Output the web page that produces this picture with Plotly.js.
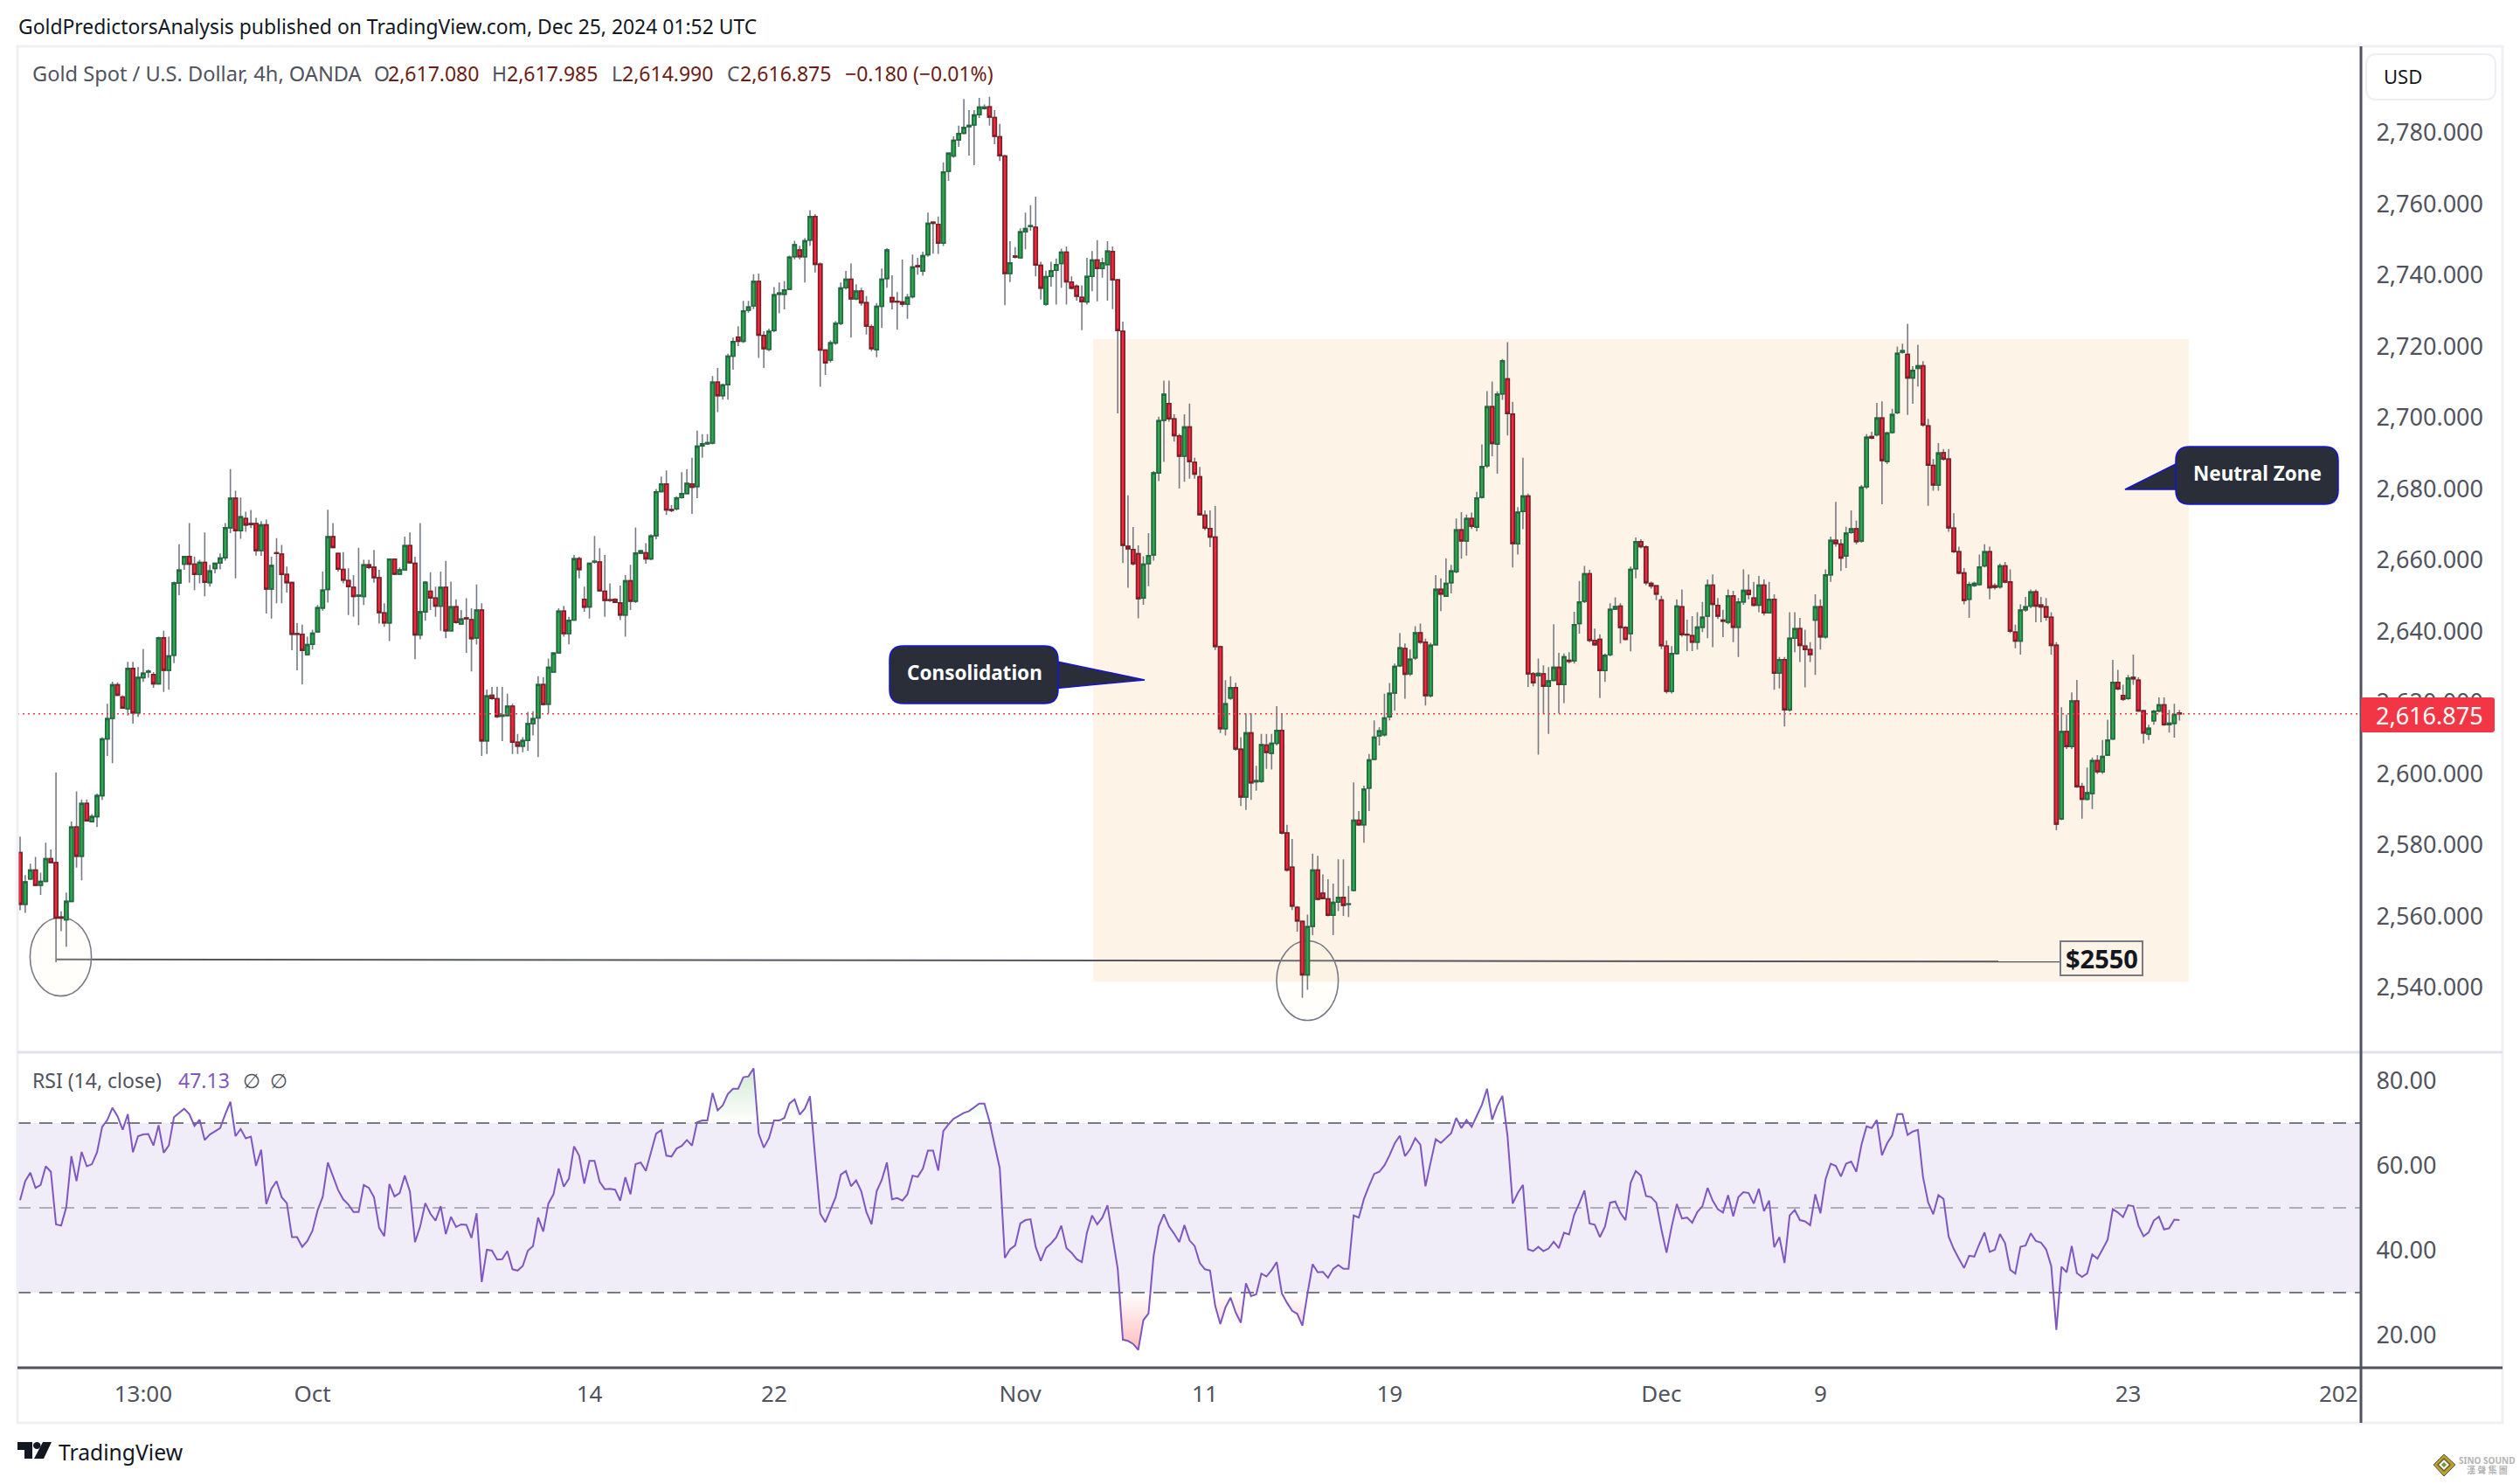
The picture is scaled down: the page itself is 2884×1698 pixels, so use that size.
<!DOCTYPE html>
<html><head><meta charset="utf-8">
<script src="https://cdn.plot.ly/plotly-3.0.1.min.js"></script>
<style>html,body{margin:0;padding:0;background:#fff;overflow:hidden}#c{width:2884px;height:1698px}</style>
</head><body><div id="c"></div>
<script>
const opens=[2577.9,2563.4,2570.5,2573.0,2568.7,2569.8,2576.2,2575.1,2559.8,2559.0,
2564.2,2585.1,2576.9,2591.7,2586.6,2588.0,2593.9,2609.8,2615.6,2625.0,
2621.6,2618.3,2629.6,2617.1,2627.0,2628.6,2627.9,2625.3,2638.2,2629.1,
2633.3,2653.6,2658.9,2661.0,2658.9,2656.0,2659.4,2653.7,2657.7,2659.2,
2660.7,2669.1,2677.4,2668.3,2671.7,2670.3,2670.3,2662.7,2669.9,2651.9,
2662.1,2661.7,2656.0,2653.7,2639.4,2639.2,2633.5,2636.4,2639.9,2646.6,
2651.8,2666.6,2661.9,2657.4,2654.3,2652.4,2649.9,2649.8,2658.7,2658.0,
2655.1,2645.2,2642.4,2660.3,2656.1,2657.3,2664.1,2659.1,2639.0,2645.5,
2651.3,2649.4,2647.1,2652.4,2640.2,2646.9,2642.1,2643.8,2643.3,2638.2,
2646.0,2609.3,2622.1,2621.1,2616.2,2616.4,2619.0,2608.9,2607.8,2609.4,
2614.1,2615.7,2625.1,2619.6,2628.6,2634.0,2645.7,2639.4,2643.2,2660.4,
2649.0,2646.9,2659.5,2659.5,2651.3,2648.9,2649.0,2648.0,2644.6,2654.2,
2648.5,2662.0,2662.1,2660.4,2666.9,2679.3,2681.4,2674.2,2674.4,2677.6,
2678.7,2681.4,2680.7,2692.1,2692.7,2692.9,2710.0,2706.2,2709.3,2717.3,
2722.6,2721.5,2730.2,2731.4,2738.3,2723.1,2719.2,2724.5,2734.7,2734.7,
2736.1,2745.2,2747.1,2745.2,2749.9,2756.5,2743.1,2719.0,2716.2,2721.0,
2726.5,2736.5,2738.9,2733.4,2735.6,2732.3,2725.6,2719.1,2731.3,2739.1,
2733.7,2732.7,2732.5,2731.9,2734,2742.7,2741.2,2745.8,2754.9,2754.3,
2749,2769.2,2773.5,2778,2779.9,2781.7,2782.2,2785.1,2786.8,2787.3,
2784.3,2778.9,2773.5,2740.5,2745.4,2744.9,2752.2,2753.7,2753.5,2742.8,
2731.9,2739.7,2741.4,2743.3,2746.5,2738.1,2736.9,2733.8,2732.5,2739.7,
2744.3,2741.9,2743,2746.7,2738.7,2724.3,2663.9,2663,2661.8,2649.4,
2659,2661.5,2684.5,2699.3,2704,2699.7,2694.9,2689.2,2697.4,2687.5,
2683.4,2672.6,2668.9,2666.5,2635.7,2612.7,2621.3,2624.2,2606.9,2593.5,
2611.5,2597.8,2597.9,2608.1,2605.8,2608.6,2612.2,2583.4,2573.8,2562.5,
2558.6,2543.6,2557.2,2573,2566.5,2564.9,2560.3,2564,2565.3,2563.4,
2567.3,2587,2585.7,2596,2604.1,2610.7,2611,2616,2622.7,2630.4,
2635.2,2628.1,2632.6,2639.6,2637,2622,2636.3,2651.8,2649.9,2653.7,
2656.8,2668.5,2665.4,2671.7,2669.3,2677.7,2686.5,2703.1,2692.6,2706.7,
2710.9,2701,2664.6,2673.7,2678,2628.1,2627.6,2628.1,2624.6,2626.3,
2629.9,2625.1,2631.9,2631.7,2642.2,2648.5,2656.2,2637.5,2637.8,2629,
2633.5,2646.3,2647.1,2641.1,2639.4,2657.6,2665.2,2663.7,2653.5,2652.8,
2648.8,2635.9,2623.2,2633.8,2646.9,2639.2,2638.8,2637,2641.2,2644.3,
2653,2647.3,2643.2,2642.6,2650,2641.2,2648.3,2651.5,2649.4,2647.4,
2653,2645.2,2649,2628.3,2632.1,2618,2638.1,2640.8,2635.9,2634.9,
2643.2,2646.9,2638.5,2655.9,2665.6,2664.5,2661.2,2667.8,2668.8,2665.4,
2680.6,2694.7,2695.2,2699.9,2687.7,2695.9,2701.4,2718.4,2717.8,2711.2,
2713.9,2714.6,2697.7,2686.6,2681.1,2690.2,2688.4,2669,2662.4,2656.4,
2649,2652.9,2653.2,2658.4,2662.4,2652.8,2652.5,2658.4,2653.9,2639.8,
2637.3,2646.1,2647.1,2651.1,2647.4,2646.9,2644,2636.1,2587.4,2611.9,
2607.7,2620.5,2596.4,2592.9,2594.5,2603.7,2600.6,2605.3,2609.8,2625.7,
2622,2621.2,2627.1,2626.3,2617.7,2611.2,2614.9,2617.7,2619.4,2613.8,2614.2,2617.08];
const highs=[2582.4,2571.6,2574.8,2576.7,2572.3,2580.7,2578.8,2600.4,2561.5,2566.7,
2586.6,2595.1,2592.8,2592.8,2588.7,2594.5,2610.3,2619.7,2625.9,2625.7,
2622.1,2631.5,2631.5,2630,2635.1,2629.3,2628.6,2638.5,2640.2,2638.5,
2654,2664.5,2661.2,2670.4,2661,2660.1,2667.8,2658.7,2659.3,2661.9,
2670.4,2685.6,2679.5,2677.6,2673.6,2674.1,2671.9,2671,2671.4,2661,
2666.2,2664.3,2658.2,2654,2642.4,2641.9,2638.5,2640.5,2647.4,2656.8,
2674.2,2670.4,2662.1,2662.3,2657.7,2655.8,2663.5,2660.1,2660.1,2662.9,
2657.3,2647.9,2660.5,2660.5,2658,2666.6,2667.8,2661,2670.4,2654.2,
2656.6,2652.6,2656.8,2659.8,2654,2649,2646,2649.3,2646.5,2653.2,
2647.9,2623.7,2624.4,2624.5,2624.4,2622.5,2619.7,2611.2,2610.3,2617.4,
2617.6,2627.4,2627.2,2632.4,2634.2,2646.5,2647.2,2644.1,2661.5,2661,
2652.6,2659.3,2666.8,2663.4,2661.5,2653.5,2649.3,2652.9,2655.8,2658.7,
2669.2,2662.9,2664.8,2667.3,2680,2683.5,2685.2,2675.5,2678,2684.7,
2685.6,2688.8,2696.4,2695.4,2695.4,2711.7,2714,2709.6,2718,2722.5,
2725.7,2732.8,2732.8,2740.3,2740.5,2724.3,2725,2736.7,2738,2738.4,
2745.5,2749.7,2748.3,2750.4,2758.3,2757.2,2743.6,2719.2,2721.7,2727.2,
2738,2741.2,2743.3,2737.5,2736.5,2734.2,2726.2,2732.2,2741.9,2747.6,
2740,2735.3,2744.4,2734.8,2745.8,2744.9,2746.6,2757.6,2755,2756.5,
2771.7,2774.5,2779,2782,2789.5,2786.4,2786.4,2789.8,2788,2790.1,
2786.4,2782.5,2773.8,2749.6,2747.9,2753.2,2757.6,2759.7,2762.1,2743.8,
2741.3,2743.8,2744.7,2747.5,2748.1,2739.7,2737.4,2737.2,2744.9,2746.8,
2749.9,2744.9,2749.6,2748.1,2739,2727,2678.2,2669.3,2664.2,2661.1,
2667.6,2685,2700.3,2710.4,2710.4,2701,2695.5,2701,2704,2688.8,
2686.2,2674,2674,2675.2,2636,2626.3,2627.4,2625.6,2610.3,2617,
2617,2602.3,2611.2,2611.2,2611.2,2619,2616.9,2585.7,2581.7,2562.9,
2558.8,2560.5,2577.6,2577,2571.8,2570.4,2569.2,2576,2576,2568.5,
2597.6,2589.6,2596.7,2605.6,2615,2613.1,2622.5,2625.5,2631,2639.6,
2636.6,2634.9,2641.5,2642.2,2638,2636.8,2655.8,2654.9,2660.5,2658.7,
2671.7,2673.5,2672.8,2673.4,2679.2,2692.5,2707.5,2710.2,2707.4,2716.5,
2721.2,2704.5,2674.9,2688.8,2678.7,2628.6,2632.4,2630.5,2630,2642,
2634,2633.8,2634.2,2645.5,2654.2,2658.4,2657.3,2640.8,2639.2,2633.8,
2647.9,2649.6,2647.9,2641.5,2658.2,2666.4,2665.9,2664.2,2654,2653,
2650,2637.5,2635.9,2649,2651.8,2643.3,2644.3,2645.4,2648.3,2654.6,
2656,2649.4,2646.1,2651.8,2651.4,2649.4,2657.4,2656,2653.9,2655.6,
2654.6,2653.9,2650.4,2632.8,2632.8,2645.4,2645.4,2643.8,2640.5,2637,
2650.4,2649,2657.4,2666.6,2676.4,2665.9,2669.4,2674,2671.1,2681.1,
2695.4,2696.1,2704.2,2704.6,2696.1,2702.5,2720,2720.8,2726.4,2714.5,
2720.5,2715.9,2699.7,2688.4,2692.9,2691.2,2691.2,2673.2,2663.8,2657.8,
2653.9,2654,2661.6,2664.5,2663.8,2653.5,2659.1,2659.5,2657.4,2641.9,
2647.6,2649.7,2651.8,2651.8,2649.7,2649.4,2645.4,2637,2618.7,2616.6,
2622.9,2626.4,2597.5,2601.8,2604.6,2605.3,2609.5,2615.2,2632,2629.2,
2625,2627.8,2633.5,2627.1,2618,2613.8,2618,2621.5,2621.5,2618,2619.7,2617.985];
const lows=[2561.7,2561,2570.5,2568.5,2566,2569.8,2575.1,2547.1,2555.8,2551.5,
2564.2,2573.7,2570.1,2586.8,2586.4,2585.1,2592.7,2605,2603,2622.1,
2618.5,2616.4,2614.1,2616,2625.8,2627,2624.2,2625.3,2623,2623.7,
2631.1,2650.2,2657.3,2653.7,2651.6,2653.5,2649.9,2652.6,2656.3,2657.4,
2659.9,2667.6,2654.9,2666,2668,2669,2661.3,2661.2,2645,2643.6,
2647.9,2647.9,2650.9,2634.7,2629.1,2625.1,2633.3,2634.9,2639.9,2645.8,
2648.1,2663.6,2656.8,2653.5,2644.6,2644.1,2641.8,2647.4,2657.5,2653.7,
2642.2,2641.3,2637.3,2655.8,2655.8,2657,2659,2632.2,2637.8,2643,
2646,2644.1,2640.2,2638.1,2640.2,2642.2,2642,2634,2628.8,2636.3,
2605,2605.6,2620.8,2615.7,2609.2,2616,2605.6,2605.6,2606.1,2606.5,
2610.8,2604.7,2619.2,2616.9,2628.6,2634,2638.5,2636.4,2643,2654.9,
2645.5,2643.6,2659,2651.4,2644.1,2648.3,2648,2643.2,2638.5,2646,
2648,2661.8,2659,2660,2665.9,2679,2672.7,2673.5,2674,2677.3,
2678.5,2673,2677.4,2688.8,2692.4,2692.5,2701.6,2705.1,2705.1,2713.5,
2720.1,2721,2729.5,2730.5,2716.8,2714,2718.7,2724,2729.3,2730.4,
2736,2744.5,2744.5,2738,2748.3,2740.8,2708.7,2712,2715.5,2720.5,
2726,2736,2722.5,2733,2731.5,2723.4,2718.7,2717,2725.2,2736.5,
2730.4,2724.7,2731.1,2727.8,2733.5,2740.2,2739.9,2745.2,2746.1,2746,
2748.2,2766.5,2773,2776.1,2779.6,2773.6,2770.9,2784.2,2786.5,2782,
2776.8,2772.1,2731.6,2738.1,2744.7,2744.7,2747.3,2752.5,2739.7,2733.2,
2731.5,2736.8,2731.8,2736.5,2731.8,2736,2732.9,2724.6,2731.8,2735.5,
2732.7,2739.3,2732.9,2730.5,2701.2,2659.2,2652.3,2658.5,2643.7,2647.5,
2652.7,2659.9,2682.2,2687.6,2698.9,2693.3,2680.1,2682,2682.9,2682.9,
2672.5,2668.4,2663.7,2634.8,2611.5,2610.8,2620.8,2606.5,2591,2589.9,
2592.7,2595.3,2597.5,2601.4,2601.2,2608,2583,2572.6,2561.8,2555.7,
2537.1,2539.4,2554.7,2564.5,2564.8,2560,2554.7,2561.5,2560.1,2559.8,
2567,2585.4,2580.7,2589.6,2603.8,2608,2610.5,2615,2617.8,2630,
2621.1,2627.5,2632,2636.5,2619.2,2621.5,2636,2645.7,2649.7,2650.7,
2656.3,2660.4,2661.3,2668.8,2668.1,2677.3,2685.9,2689.2,2684.3,2705,
2695,2658,2661.6,2668.7,2624.4,2624.6,2605.4,2616.9,2611.2,2626,
2617,2619.9,2631,2631,2639.4,2648,2637,2636,2621.3,2625.8,
2633,2646,2636.6,2637.5,2634.4,2654.9,2663.3,2653,2652,2648.8,
2635,2622.6,2622.6,2633.5,2638.5,2634.5,2634.5,2634.9,2639.8,2638.1,
2635.6,2643.5,2638.4,2642,2637,2632.8,2647.5,2649,2647,2645.4,
2644.5,2645,2623.6,2624,2613.3,2617.5,2634.2,2631.4,2624.3,2631.4,
2627.8,2634.9,2638,2653.9,2663.8,2657,2657.8,2667.4,2664.5,2664.9,
2680,2694,2694.8,2675.7,2687,2695.5,2701,2718,2700.8,2703.9,
2708.8,2697.5,2675.3,2679.5,2679.5,2688,2668,2662,2656,2647.6,
2643.8,2652.5,2652.8,2658,2649,2651.8,2652,2653.5,2639.5,2635.3,
2633.5,2645.5,2646.5,2642.6,2642.6,2643,2633.5,2584.2,2587,2607,
2607,2596.1,2587.4,2592.5,2590.1,2600,2600,2605,2609.5,2623.5,
2620.5,2620.8,2625,2617.4,2608.5,2609.5,2613.8,2617.3,2613.5,2611.6,2610.2,2614.99];
const closes=[2563.4,2569.7,2573.0,2568.7,2569.8,2576.2,2575.1,2559.5,2559.5,2564.2,
2585.1,2576.9,2591.7,2586.8,2588.0,2593.9,2609.8,2615.5,2625.0,2622.1,
2618.5,2629.6,2617.1,2627.1,2628.3,2628.8,2625.3,2638.2,2629.1,2633.1,
2653.6,2657.2,2661.0,2658.9,2656.0,2659.4,2653.8,2657.0,2659.1,2660.6,
2669.1,2677.4,2668.3,2672.2,2669.9,2670.0,2662.7,2669.9,2651.9,2658.5,
2661.9,2656.0,2653.7,2639.2,2639.2,2634.7,2636.3,2639.5,2646.7,2651.6,
2666.6,2663.6,2657.5,2654.4,2652.6,2649.8,2650.2,2658.7,2658.0,2655.1,
2645.3,2642.4,2660.3,2656.1,2657.3,2664.1,2659.3,2639.0,2645.5,2653.8,
2649.4,2647.1,2652.4,2640.2,2646.9,2642.5,2643.5,2643.6,2638.0,2646.0,
2609.3,2621.9,2621.2,2616.1,2616.5,2619.0,2608.9,2607.8,2609.4,2614.1,
2615.5,2625.1,2619.5,2629.9,2633.9,2645.7,2639.4,2643.1,2660.4,2657.4,
2646.8,2659.1,2659.7,2651.4,2648.7,2648.7,2648.2,2644.6,2654.2,2648.5,
2662.0,2662.6,2660.4,2666.8,2679.2,2681.4,2674.1,2674.0,2677.5,2678.7,
2681.6,2680.5,2692.0,2692.7,2693.0,2710.0,2706.2,2709.2,2717.3,2721.4,
2721.5,2730.0,2731.1,2738.3,2723.2,2719.4,2724.3,2734.5,2735.0,2735.9,
2745.1,2748.6,2745.2,2749.7,2756.5,2743.1,2719.0,2715.4,2721.0,2726.5,
2736.4,2738.9,2733.4,2735.6,2732.3,2725.7,2719.4,2731.3,2738.9,2747.1,
2732.5,2732.5,2731.9,2733.8,2742.3,2742.4,2745.5,2754.6,2754.6,2749,
2769,2774.3,2777.9,2779.8,2781.5,2782.1,2785,2787.2,2787.2,2784.4,
2779,2773.6,2740.5,2743.5,2745.1,2752.2,2753.1,2753.9,2742.9,2736.4,
2739.6,2741.3,2743,2746.5,2738.2,2736.4,2734.1,2732.6,2739.7,2744.3,
2741.9,2743.5,2746.8,2738.7,2724.5,2664.2,2663.2,2659,2649.2,2658.9,
2661.3,2684.5,2699.2,2706.6,2699.7,2695,2689.2,2697.4,2687.7,2684.2,
2672.8,2669,2666.5,2635.8,2612.7,2619.7,2624.2,2607,2593.5,2611.5,
2597.5,2598.1,2608.2,2606,2608.6,2612.2,2583.4,2573,2562.9,2558.7,
2543.6,2557.1,2573,2564.8,2565,2560.3,2563.9,2565.3,2563.1,2563.5,
2587,2585.7,2595.7,2603.9,2610.3,2612.1,2615.7,2622.6,2630.2,2635.4,
2628,2632.2,2639.6,2637,2622,2636.1,2651.8,2650.5,2653.5,2657,
2668.5,2665.4,2671.7,2669.5,2677.5,2686.3,2703.1,2692.8,2706.6,2716,
2701.2,2664.7,2673.5,2678,2628.1,2625.6,2628.2,2624.6,2626.1,2629.9,
2625.1,2632.9,2631.6,2641.9,2648.3,2656.2,2637.5,2636.3,2629,2633.3,
2646.2,2647,2641.1,2637.8,2657.4,2665.2,2663.8,2653.7,2652.8,2650.5,
2636,2623.2,2633.8,2647.1,2639.1,2639,2637,2641.2,2644,2653,
2647.6,2644.3,2642.9,2650,2641.2,2648.3,2651.5,2650.4,2647.4,2653,
2645.2,2649,2628.3,2632.1,2618,2638.1,2640.8,2636.1,2634.9,2633.5,
2646.9,2638.5,2655.9,2665.6,2664.7,2660.6,2667.6,2668.8,2665.2,2680.5,
2694.5,2694.3,2699.9,2688,2695.7,2700.9,2718.1,2718.8,2711.2,2713.3,
2714.6,2698,2686.7,2681.1,2690.1,2688.4,2669.1,2662.4,2656.4,2648.7,
2653.2,2653.5,2658.1,2662.4,2652.3,2652.4,2658.4,2653.9,2640.1,2637.3,
2646,2646.9,2651.1,2647.1,2646.9,2644,2636.1,2585.9,2611.9,2607.7,
2620.5,2596.4,2592.9,2594.7,2603.7,2600.6,2604.9,2609.5,2625.7,2623.9,
2621,2626.9,2626.7,2617.7,2611.5,2612.8,2617.6,2619.4,2613.8,2614.2,2616.7,2616.875];
const rsi=[51.8,56.3,58.3,54.7,55.4,59.8,58.5,46.1,45.8,50.1,62.2,56.3,63.2,59.8,60.3,63.1,69.1,70.7,73.6,71.6,
68.4,72.1,63.1,66.9,67.3,67.4,64.7,69.5,63.0,64.7,71.4,72.4,73.4,72.1,69.3,70.8,66.0,67.3,68.1,68.8,
72.1,75.0,66.9,68.6,66.4,66.8,59.9,63.7,50.9,54.5,56.3,52.5,51.1,43.1,43.1,40.8,42.2,44.6,49.4,52.6,
60.7,57.6,54.2,52.0,50.8,49.0,49.0,55.4,54.7,52.5,45.3,43.3,55.6,52.7,53.5,57.6,53.9,41.9,45.6,51.1,
48.6,47.0,50.4,43.8,47.9,45.5,46.1,46.0,42.9,48.7,32.5,40.1,39.9,37.8,37.9,39.8,35.5,35.2,36.3,39.9,
41.0,47.7,44.4,51.0,53.2,59.3,55.0,56.9,64.5,62.3,55.7,61.1,61.1,56.1,54.4,54.5,54.3,51.7,57.2,53.2,
60.3,60.7,58.7,63.1,67.5,68.3,62.3,62.1,64.0,64.6,66.0,64.7,70.2,70.6,70.6,77.1,73.0,74.2,76.9,78.1,
78.1,80.8,81.0,82.9,67.5,64.2,66.4,70.6,70.6,71.2,74.6,75.6,72.0,73.4,76.3,62.1,48.6,46.6,49.7,52.5,
57.8,58.7,55.1,56.5,53.9,49.0,46.1,53.9,56.6,60.7,52.0,52.3,51.7,53.2,57.6,57.3,59.2,63.5,63.5,58.8,
68.1,69.7,71.0,71.7,72.4,72.8,73.8,74.6,74.6,70.4,64.8,59.4,38.2,40.2,41.1,46.3,47.1,47.3,40.8,37.5,
40.5,41.6,43.0,45.8,40.5,39.4,37.9,37.2,44.2,48.2,46.1,47.7,50.6,43.5,35.6,18.9,18.6,17.9,16.5,23.5,
25.1,38.7,45.6,48.5,45.6,43.9,41.9,45.9,42.3,41.0,37.0,35.5,35.2,26.9,22.6,26.5,28.8,25.3,22.9,32.2,
29.2,29.6,34.5,33.8,35.3,37.2,29.8,27.6,25.7,25.0,22.2,29.8,36.7,34.8,34.9,33.5,35.6,36.5,35.6,35.6,
48.2,47.7,52.1,55.2,58.0,58.5,60.0,62.4,65.2,67.0,62.2,63.8,66.4,64.9,55.1,60.7,66.2,65.3,66.4,67.6,
71.2,68.8,70.7,69.1,71.7,74.3,78.1,70.8,74.1,76.4,66.9,51.0,53.5,55.4,40.2,39.8,40.8,39.8,40.4,42.0,
40.5,44.1,43.7,48.4,51.1,54.1,46.3,46.0,43.1,45.6,51.2,51.5,48.8,47.1,55.9,58.7,57.6,52.8,52.5,51.2,
44.9,39.4,45.6,50.9,47.5,47.7,46.5,49.0,50.4,54.7,51.7,49.7,48.9,53.0,48.0,52.5,53.7,53.5,51.0,54.5,
49.2,51.7,40.7,43.1,37.0,48.2,49.5,47.1,46.8,45.9,53.2,48.7,56.7,60.4,59.9,57.4,60.4,60.9,58.5,64.9,
69.2,68.8,70.7,62.4,65.2,67.1,72.1,72.1,67.2,68.0,68.4,57.3,51.3,48.5,53.0,52.1,43.2,40.3,38.0,35.8,
38.7,38.5,41.5,44.2,39.6,40.1,43.8,41.7,35.4,34.5,40.8,41.1,44.0,42.2,41.8,40.2,36.3,21.2,36.1,34.8,
41.0,34.6,33.7,34.5,39.0,38.0,40.2,42.5,49.7,48.9,47.8,50.6,50.4,45.8,43.3,44.2,47.0,47.9,44.9,45.2,47.2,47.13];
const xTickBars=[24,57,111,147,195,231,267,320,351,411,452];
const xTickLabels=['13:00','Oct','14','22','Nov','11','19','Dec','9','23','202'];
const priceTicks=[2540,2560,2580,2600,2620,2640,2660,2680,2700,2720,2740,2760,2780];
const rsiTicks=[20,40,60,80];
const lastPrice=2616.875;
const supportStart=2547.9, supportEnd=2547.3;

const FONT='"Noto Sans","Open Sans",sans-serif';
const GREY='#50535e';
const W=2884,H=1698;
const px=v=>v/W, py=v=>1-v/H;
const bars=closes.map((_,i)=>i);
const barX=x=>(x-23)/5.87;
const priceY=y=>2780-(y-152)/4.075;

function pline(x0,y0,x1,y1,color,width,extra){return Object.assign({type:'line',xref:'paper',yref:'paper',x0:px(x0),y0:py(y0),x1:px(x1),y1:py(y1),line:{color,width},layer:'above'},extra||{});}
function rrect(x0,y0,x1,y1,r){
 const a=(x,y)=>px(x).toFixed(6)+','+py(y).toFixed(6);
 return 'M'+a(x0+r,y0)+' L'+a(x1-r,y0)+' Q'+a(x1,y0)+' '+a(x1,y0+r)+' L'+a(x1,y1-r)+' Q'+a(x1,y1)+' '+a(x1-r,y1)+' L'+a(x0+r,y1)+' Q'+a(x0,y1)+' '+a(x0,y1-r)+' L'+a(x0,y0+r)+' Q'+a(x0,y0)+' '+a(x0+r,y0)+' Z';
}
function poly(pts){return 'M'+pts.map(p=>px(p[0]).toFixed(6)+','+py(p[1]).toFixed(6)).join(' L')+' Z';}
function pshape(path,fill,lineColor,lw){return {type:'path',xref:'paper',yref:'paper',path,fillcolor:fill,line:{color:lineColor||'rgba(0,0,0,0)',width:lw||0},layer:'above'};}
function note(text,x,y,size,color,anchor,extra){return Object.assign({xref:'paper',yref:'paper',x:px(x),y:py(y),text,showarrow:false,xanchor:anchor||'left',yanchor:'middle',font:{family:FONT,size,color},borderpad:0},extra||{});}

const traces=[
 {type:'scatter',x:bars,y:rsi.map(()=>70),yaxis:'y2',mode:'lines',line:{width:0,color:'rgba(0,0,0,0)'},hoverinfo:'skip'},
 {type:'scatter',x:bars,y:rsi.map(v=>Math.max(v,70)),yaxis:'y2',mode:'lines',line:{width:0,color:'rgba(0,0,0,0)'},fill:'tonexty',
  fillgradient:{type:'vertical',start:70,stop:85,colorscale:[[0,'rgba(76,175,80,0)'],[1,'rgba(76,175,80,0.3)']]},hoverinfo:'skip'},
 {type:'scatter',x:bars,y:rsi.map(()=>30),yaxis:'y2',mode:'lines',line:{width:0,color:'rgba(0,0,0,0)'},hoverinfo:'skip'},
 {type:'scatter',x:bars,y:rsi.map(v=>Math.min(v,30)),yaxis:'y2',mode:'lines',line:{width:0,color:'rgba(0,0,0,0)'},fill:'tonexty',
  fillgradient:{type:'vertical',start:30,stop:16,colorscale:[[0,'rgba(255,82,82,0)'],[1,'rgba(255,82,82,0.4)']]},hoverinfo:'skip'},
 {type:'scatter',x:bars,y:rsi,yaxis:'y2',mode:'lines',line:{color:'#7e57c2',width:2},name:'RSI'},
 {type:'candlestick',x:bars,open:opens,high:highs,low:lows,close:closes,yaxis:'y',whiskerwidth:0,
  increasing:{line:{color:'#787b86',width:1.6},fillcolor:'rgba(0,0,0,0)'},decreasing:{line:{color:'#787b86',width:1.6},fillcolor:'rgba(0,0,0,0)'},hoverinfo:'skip'},
 {type:'candlestick',x:bars,open:opens,close:closes,high:opens.map((o,i)=>Math.max(o,closes[i])),low:opens.map((o,i)=>Math.min(o,closes[i])),yaxis:'y',whiskerwidth:0,
  increasing:{line:{color:'#1f6a3d',width:1.6},fillcolor:'#2ea84f'},decreasing:{line:{color:'#7d1d24',width:1.6},fillcolor:'#f5283e'},name:'Gold'}
];

const shapes=[
 {type:'rect',xref:'x',yref:'y',x0:barX(1251),x1:barX(2505),y0:2541.6,y1:2722.1,fillcolor:'#fdf3e6',line:{width:0},layer:'below'},
 {type:'rect',xref:'paper',yref:'y2',x0:px(20),x1:px(2702),y0:30,y1:70,fillcolor:'rgba(126,87,194,0.115)',line:{width:0},layer:'below'},
 {type:'line',xref:'paper',yref:'y2',x0:px(20),x1:px(2702),y0:70,y1:70,line:{color:'#787b86',width:2,dash:'15px,10px'},layer:'below'},
 {type:'line',xref:'paper',yref:'y2',x0:px(20),x1:px(2702),y0:50,y1:50,line:{color:'rgba(120,123,134,0.55)',width:2,dash:'15px,10px'},layer:'below'},
 {type:'line',xref:'paper',yref:'y2',x0:px(20),x1:px(2702),y0:30,y1:30,line:{color:'#787b86',width:2,dash:'15px,10px'},layer:'below'},
 {type:'line',xref:'x',yref:'y',x0:barX(64),x1:barX(2358),y0:supportStart,y1:supportEnd,line:{color:'#54575f',width:2},layer:'below'},
 {type:'circle',xref:'x',yref:'y',x0:barX(34.4),x1:barX(104.6),y0:priceY(1139.6),y1:priceY(1049.7),fillcolor:'rgba(255,250,230,0.15)',line:{color:'#787b86',width:1.6},layer:'below'},
 {type:'circle',xref:'x',yref:'y',x0:barX(1461),x1:barX(1531.6),y0:priceY(1167.5),y1:priceY(1076.5),fillcolor:'rgba(255,250,230,0.15)',line:{color:'#787b86',width:1.6},layer:'below'},
 {type:'line',xref:'paper',yref:'y',x0:px(20),x1:px(2702),y0:lastPrice,y1:lastPrice,line:{color:'#f23645',width:1.6,dash:'2px,4px'},layer:'above'},
 {type:'rect',xref:'paper',yref:'paper',x0:px(20),x1:px(2864),y0:py(1628),y1:py(53),line:{color:'#eff0f5',width:3},fillcolor:'rgba(0,0,0,0)',layer:'above'},
 pline(20,1204,2864,1204,'#e0e3eb',3),
 pline(2702,53,2702,1628,GREY,3),
 pline(20,1565,2864,1565,GREY,3),
 pshape(rrect(2708,62,2856,114,12),'#ffffff','#eceef4',2),
 pshape(rrect(2702,798,2855,838,3),'#f23645'),
 {type:'rect',xref:'paper',yref:'paper',x0:px(2358),x1:px(2452),y0:py(1116),y1:py(1077),fillcolor:'#fdf3e6',line:{color:'#787b86',width:2},layer:'above'},
 pshape(poly([[1205,756],[1310,778],[1205,788]]),'#2a2e39','#1414d8',1.5),
 pshape(rrect(1018,739,1211,805,16),'#2a2e39','#1414d8',1.5),
 pshape(poly([[2496,528],[2432,560],[2496,560]]),'#2a2e39','#1414d8',1.5),
 pshape(rrect(2490,511,2676,577,16),'#2a2e39','#1414d8',1.5),
 pshape(poly([[20,1650],[37,1650],[37,1669],[28,1669],[28,1659],[20,1659]]),'#131722'),
 {type:'circle',xref:'paper',yref:'paper',x0:px(38),x1:px(46.5),y0:py(1658),y1:py(1650),fillcolor:'#131722',line:{width:0},layer:'above'},
 pshape(poly([[49,1650],[59,1650],[50,1669],[39,1669]]),'#131722'),
 pshape(poly([[2797,1664],[2810,1676],[2797,1689],[2785,1676]]),'#b9a12a','#555555',1),
 pshape(poly([[2797,1669],[2804,1676],[2797,1683],[2790,1676]]),'#f4f4ea','#6a5a3a',1.5),
 pshape(poly([[2797,1673],[2800,1676],[2797,1679],[2794,1676]]),'#6a9a3a')
];

const LEG='#50535e', VAL='#6b1d16', SZ=23;
const annotations=[
 note('GoldPredictorsAnalysis published on TradingView.com, Dec 25, 2024 01:52 UTC',20,30,22.9,'#131722'),
 note('Gold Spot / U.S. Dollar, 4h, OANDA',36,84,23.6,LEG),
 note('O',427,84,SZ,LEG),note('2,617.080',443,84,SZ,VAL),
 note('H',562,84,SZ,LEG),note('2,617.985',579,84,SZ,VAL),
 note('L',699,84,SZ,LEG),note('2,614.990',711,84,SZ,VAL),
 note('C',831,84,SZ,LEG),note('2,616.875',846,84,SZ,VAL),
 note('−0.180 (−0.01%)',966,84,SZ,VAL),
 note('RSI (14, close)',36,1236,SZ,LEG),
 note('47.13',203,1236,SZ,'#7e57c2'),
 note('∅',277,1236,SZ,LEG),note('∅',308,1236,SZ,LEG),
 note('USD',2727,87,22,'#131722'),
 note('2,616.875',2718,818,27,'#ffffff'),
 note('<b>Consolidation</b>',1115,769,22.5,'#ffffff','center'),
 note('<b>Neutral Zone</b>',2583,541,22.5,'#ffffff','center'),
 note('<b>$2550</b>',2405,1096,29,'#131722','center'),
 note('TradingView',66,1661,24.7,'#131722'),
 note('<b>SINO SOUND</b>',2846,1671,10,'#b4b4b4','center'),
 note('<b>漢 聲 集 團</b>',2846,1681,10,'#b4b4b4','center',{font:{family:'"Noto Sans CJK TC"',size:10,color:'#b4b4b4'}})
];

const layout={
 width:W,height:H,margin:{l:0,r:0,t:0,b:0},paper_bgcolor:'#ffffff',plot_bgcolor:'#ffffff',showlegend:false,
 boxgap:0.15,boxgroupgap:0.2,hovermode:false,
 xaxis:{domain:[px(20),px(2702)],range:[barX(20),barX(2702)],anchor:'y2',showgrid:false,zeroline:false,showline:false,
  rangeslider:{visible:false},tickmode:'array',tickvals:xTickBars,ticktext:xTickLabels,ticks:'outside',ticklen:7,tickcolor:'rgba(0,0,0,0)',
  tickfont:{family:FONT,size:26,color:GREY},tickangle:0},
 yaxis:{domain:[py(1204),py(53)],range:[priceY(1204),priceY(53)],side:'right',anchor:'x',showgrid:false,zeroline:false,showline:false,
  tickmode:'array',tickvals:priceTicks,tickformat:',.3f',ticks:'outside',ticklen:11,tickcolor:'rgba(0,0,0,0)',tickfont:{family:FONT,size:27,color:GREY}},
 yaxis2:{domain:[py(1565),py(1204)],range:[12.27,86.7],side:'right',anchor:'x',showgrid:false,zeroline:false,showline:false,
  tickmode:'array',tickvals:rsiTicks,tickformat:'.2f',ticks:'outside',ticklen:11,tickcolor:'rgba(0,0,0,0)',tickfont:{family:FONT,size:27,color:GREY}},
 shapes,annotations
};
Plotly.newPlot('c',traces,layout,{displayModeBar:false,staticPlot:true,responsive:false});
</script></body></html>
